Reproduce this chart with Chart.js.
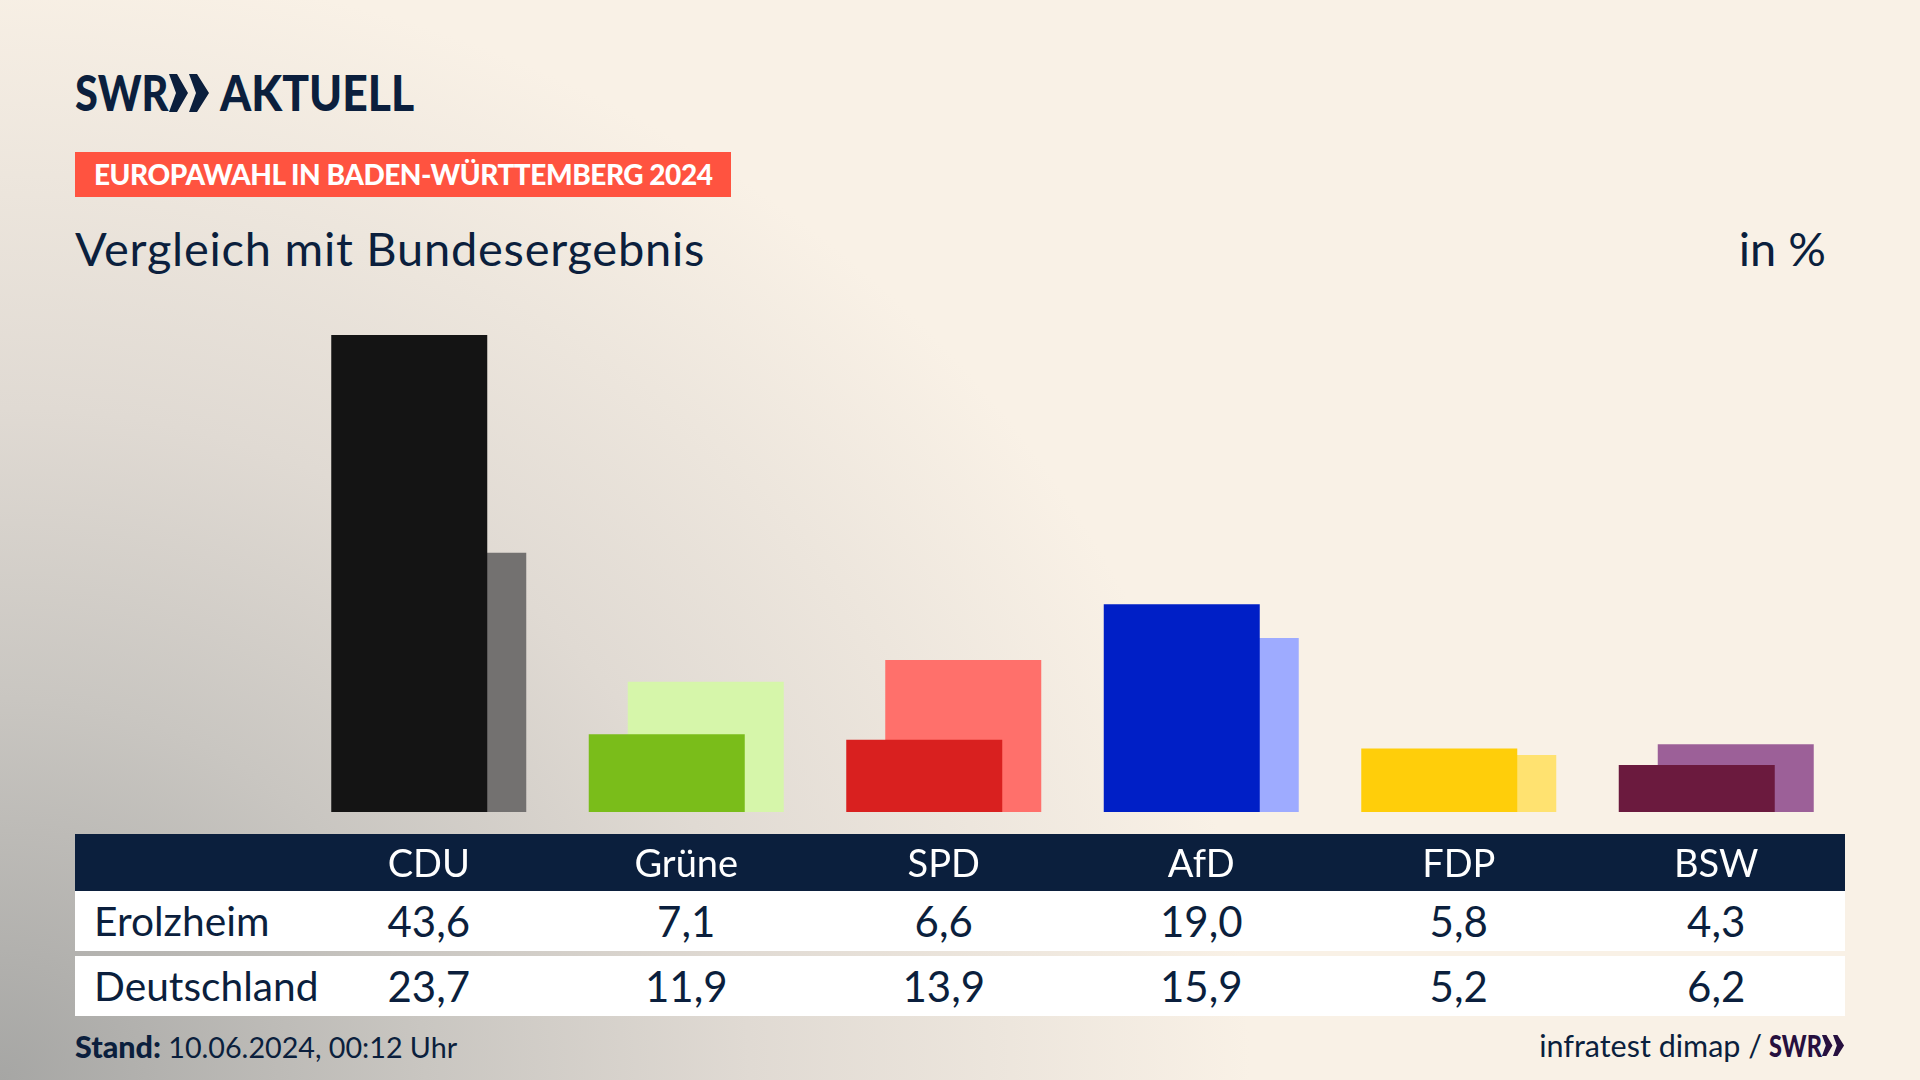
<!DOCTYPE html>
<html lang="de"><head><meta charset="utf-8"><title>Europawahl</title>
<script src="https://cdn.jsdelivr.net/npm/chart.js@4/dist/chart.umd.js"></script>
<style>
html,body{margin:0;padding:0}
body{width:1920px;height:1080px;position:relative;overflow:hidden;font-family:Lato,"Noto Sans",sans-serif;color:#0B1F3D;
background:radial-gradient(ellipse 1250px 1120px at 0 1080px,#a6a6a4 0,#c9c6c1 34%,#e0dad3 60%,#f9f1e6 100%),#f9f1e6}
.abs{position:absolute;white-space:nowrap}
.logo{top:62px;font-size:50px;font-weight:900;line-height:60px;transform-origin:left center}
#band{left:75px;top:834px;width:1770px;height:57px;background:#0B1F3D}
.row{left:75px;width:1770px;height:60px;background:#fff;display:grid;grid-template-columns:225px repeat(6,257.5px);align-items:center;font-size:42px;line-height:60px}
.row span{text-align:center}
.row span:first-child{text-align:left;padding-left:19px;font-size:40.7px}
#c{position:absolute;left:0;top:0;z-index:2}
</style></head><body>
<div class="abs logo" id="logoA" style="left:75px;transform:scaleX(.83)"></div>
<svg class="abs" width="40" height="38" viewBox="0 0 40 38" style="left:169px;top:74px"><path d="M0 0h8l11 19-11 19H0l7-19zM20 0h8l12 19-12 19h-8l7-19z" fill="#0B1F3D"/></svg>
<div class="abs logo" id="logoB" style="left:220px;transform:scaleX(.89)"></div>
<div class="abs" style="left:75px;top:152px;width:656px;height:45px;background:#FF5340"></div>
<div class="abs" style="left:94px;top:152px;line-height:45px;font-size:28px;letter-spacing:-.45px;font-weight:900;color:#fff" id="pill"></div>
<div class="abs" id="title" style="left:75px;top:220px;font-size:47px;letter-spacing:.75px;line-height:56px"></div>
<div class="abs" id="unit" style="right:94px;top:220px;font-size:47px;line-height:56px"></div>
<div class="abs" id="band"></div>
<div class="abs row" id="r1" style="top:891px"></div>
<div class="abs row" id="r2" style="top:956px"></div>
<div class="abs" id="stand" style="left:75px;top:1028px;font-size:28.7px;line-height:36px"></div>
<div class="abs" id="source" style="right:158px;top:1027px;font-size:30.5px;line-height:36px"></div>
<div class="abs" id="srcLogo" style="left:1769px;top:1027px;font-size:30.5px;line-height:36px;font-weight:900;color:#27103f;transform:scaleX(.77);transform-origin:left center"></div>
<svg class="abs" width="24" height="21" viewBox="0 0 40 38" style="left:1821px;top:1035px"><path d="M0 0h8l11 19-11 19H0l7-19zM20 0h8l12 19-12 19h-8l7-19z" fill="#27103f"/></svg>
<canvas id="c" width="1920" height="1080" style="width:1920px;height:1080px"></canvas>
<script>
const categories = ["CDU","Grüne","SPD","AfD","FDP","BSW"];
const erolzheim = [43.6,7.1,6.6,19.0,5.8,4.3];
const deutschland = [23.7,11.9,13.9,15.9,5.2,6.2];
const frontColors = ["#141414","#7ABD1A","#D9201F","#001FC6","#FFCE0A","#6B1A3E"];
const backColors = ["#737170","#D6F6AA","#FF706B","#9EABFF","#FFE270","#9C6098"];
const rowNames = ["Erolzheim","Deutschland"];
const logoParts = ["SWR","AKTUELL"];
const heading = "EUROPAWAHL IN BADEN-WÜRTTEMBERG 2024";
const subtitle = "Vergleich mit Bundesergebnis";
const unitLabel = "in %";
const standLabel = "Stand:";
const standDate = "10.06.2024, 00:12 Uhr";
const sourceLabel = "infratest dimap /";

const fmt = v => v.toFixed(1).replace(".",",");
document.getElementById("logoA").textContent = logoParts[0];
document.getElementById("logoB").textContent = logoParts[1];
document.getElementById("srcLogo").textContent = logoParts[0];
document.getElementById("pill").textContent = heading;
document.getElementById("title").textContent = subtitle;
document.getElementById("unit").textContent = unitLabel;
document.getElementById("stand").innerHTML = "<b style='font-weight:900;font-size:30.5px'>"+standLabel+"</b> "+standDate;
document.getElementById("source").textContent = sourceLabel;
[["r1",erolzheim,0],["r2",deutschland,1]].forEach(([id,vals,i])=>{
  const el=document.getElementById(id);
  [rowNames[i],...vals.map(fmt)].forEach(t=>{const s=document.createElement("span");s.textContent=t;el.appendChild(s);});
});
new Chart(document.getElementById("c"),{
  type:"bar",
  data:{labels:categories,datasets:[
    {label:rowNames[0],data:erolzheim,backgroundColor:frontColors},
    {label:rowNames[1],data:deutschland,backgroundColor:backColors}
  ]},
  options:{
    responsive:false,animation:false,devicePixelRatio:1,
    categoryPercentage:78/257.5,barPercentage:4,
    layout:{padding:{left:300,right:75,top:265,bottom:200}},
    plugins:{legend:{display:false},title:{display:false},tooltip:{enabled:false}},
    scales:{
      x:{grid:{display:false},border:{display:false},
         afterFit(s){s.height=68;},
         ticks:{color:"#fff",font:{family:"Lato",size:38},padding:22,maxRotation:0,autoSkip:false}},
      y:{display:false,min:0,max:50}
    }
  }
});
</script>
</body></html>
